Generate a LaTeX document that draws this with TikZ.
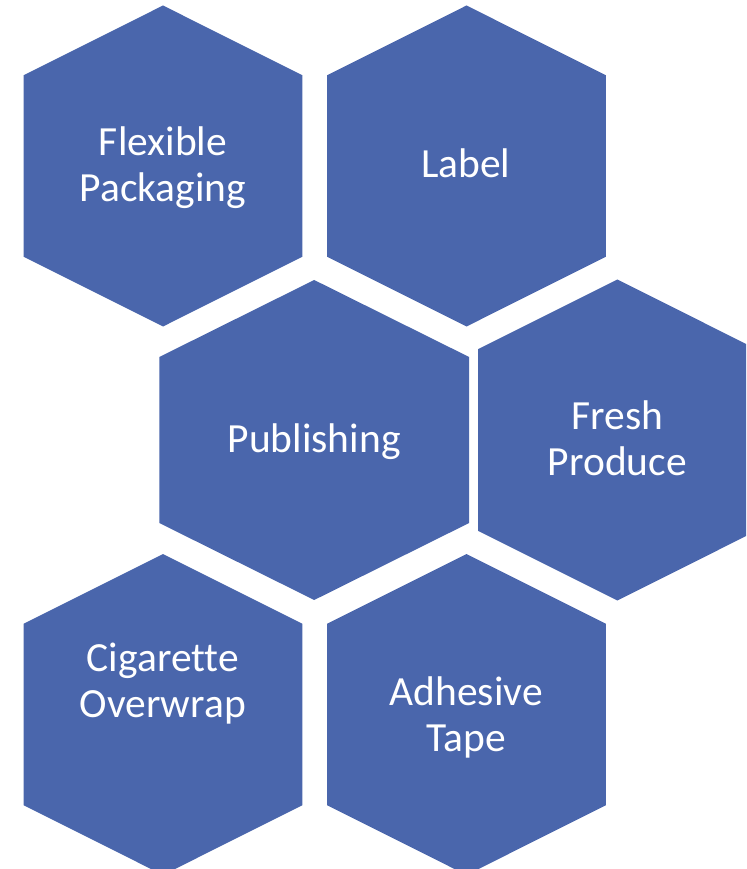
\documentclass[tikz,border=0pt]{standalone}
\usepackage{fontspec}
\setmainfont{Carlito}[Ligatures=NoCommon]
\usepackage{xcolor}
\usepackage{tikz}
\definecolor{hexblue}{HTML}{4A66AC}
\tikzstyle{hexcell} = [fill=hexblue, draw=none]
\tikzstyle{hexlabel} = [text=white, align=center, inner sep=0pt, font=\fontsize{29.5}{32.7}\selectfont]

\begin{document}
\begin{tikzpicture}[x=0.25mm, y=-0.25mm]
% Page frame
\useasboundingbox (0,0) rectangle (746,869);
\clip (0,0) rectangle (746,869);

% Top row
\fill[hexcell, shift={(163,166)}] (0,-160.5) -- (139.3,-90.8) -- (139.3,90.8) -- (0,160.5) -- (-139.3,90.8) -- (-139.3,-90.8) -- cycle;
\fill[hexcell, shift={(466.5,166)}] (0,-160.5) -- (139.3,-90.8) -- (139.3,90.8) -- (0,160.5) -- (-139.3,90.8) -- (-139.3,-90.8) -- cycle;

% Middle row
\fill[hexcell, shift={(314.2,440)}] (0,-160) -- (154.9,-83) -- (154.9,83) -- (0,160) -- (-154.9,83) -- (-154.9,-83) -- cycle;
\fill[hexcell, shift={(617.3,440)}] (0,-160.5) -- (139.3,-90.8) -- (139.3,90.8) -- (0,160.5) -- (-139.3,90.8) -- (-139.3,-90.8) -- cycle;

% Bottom row
\fill[hexcell, shift={(163,714.5)}] (0,-160.5) -- (139.3,-90.8) -- (139.3,90.8) -- (0,160.5) -- (-139.3,90.8) -- (-139.3,-90.8) -- cycle;
\fill[hexcell, shift={(466.5,714.5)}] (0,-160.5) -- (139.3,-90.8) -- (139.3,90.8) -- (0,160.5) -- (-139.3,90.8) -- (-139.3,-90.8) -- cycle;

% Labels
\node[hexlabel] (flexible) at (163,168) {Flexible\\Packaging};
\node[hexlabel] (label) at (465.8,163.5) {Label};
\node[hexlabel] (publishing) at (314.2,441.3) {Publishing};
\node[hexlabel] (fresh) at (617.3,438.3) {Fresh\\Produce};
\node[hexlabel] (cigarette) at (162.8,683.8) {Cigarette\\Overwrap};
\node[hexlabel] (adhesive) at (466.2,717.2) {Adhesive\\Tape};
\end{tikzpicture}
\end{document}
